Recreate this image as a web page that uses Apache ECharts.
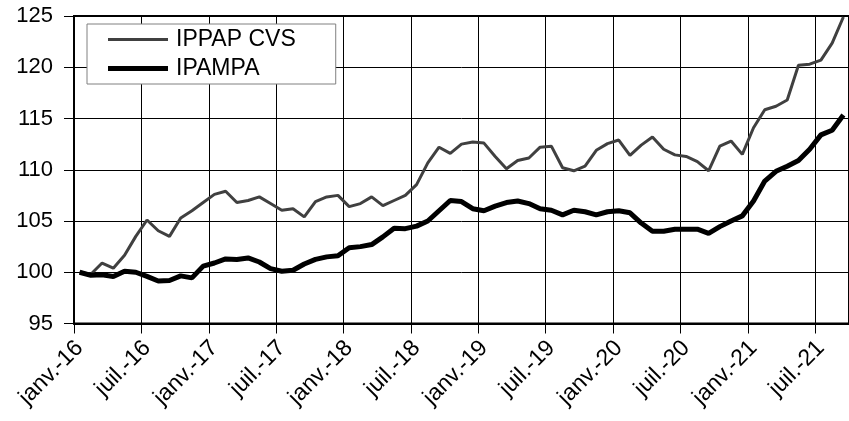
<!DOCTYPE html>
<html>
<head>
<meta charset="utf-8">
<script src="https://cdn.jsdelivr.net/npm/echarts@6/dist/echarts.min.js"></script>
<style>
  html, body { margin: 0; padding: 0; background: #fff; }
  #chart { width: 849px; height: 421px; }
</style>
</head>
<body>
<div id="chart"></div>
<script>
// month labels, jan 2016 -> sept 2021
const monthNames = ['janv.', 'févr.', 'mars', 'avr.', 'mai', 'juin', 'juil.', 'août', 'sept.', 'oct.', 'nov.', 'déc.']
const years = ['16', '17', '18', '19', '20', '21']
const monthCount = 69

const months = []
for (let i = 0; i < monthCount; i++) {
  months.push(monthNames[i % 12] + '-' + years[Math.floor(i / 12)])
}

const ippapCvs = [
  100.0, 99.8, 100.9, 100.4, 101.65, 103.5, 105.1, 104.05, 103.5, 105.3, 106.0, 106.8,
  107.6, 107.9, 106.8, 107.0, 107.35, 106.7, 106.05, 106.2, 105.4, 106.9, 107.35, 107.5,
  106.4, 106.7, 107.35, 106.5, 107.0, 107.5, 108.55, 110.67, 112.2, 111.6, 112.5, 112.7,
  112.6, 111.3, 110.1, 110.9, 111.15, 112.2, 112.3, 110.2, 109.9, 110.35, 111.9, 112.55,
  112.9, 111.4, 112.4, 113.2, 112.0, 111.45, 111.3, 110.8, 109.9, 112.3, 112.8, 111.5,
  114.1, 115.85, 116.2, 116.8, 120.2, 120.3, 120.7, 122.35, 124.9
]

const ipampa = [
  100.0, 99.7, 99.75, 99.58, 100.1, 100.0, 99.6, 99.15, 99.2, 99.65, 99.45, 100.6,
  100.9, 101.3, 101.25, 101.4, 101.0, 100.35, 100.1, 100.2, 100.8, 101.25, 101.5, 101.6,
  102.4, 102.5, 102.7, 103.45, 104.3, 104.25, 104.5, 105.0, 106.0, 107.0, 106.9, 106.2,
  106.0, 106.45, 106.8, 106.95, 106.7, 106.2, 106.05, 105.6, 106.05, 105.9, 105.6, 105.9,
  106.0, 105.8, 104.8, 104.0, 104.0, 104.2, 104.2, 104.2, 103.8, 104.45, 105.0, 105.5,
  106.95, 108.9, 109.85, 110.35, 110.9, 112.0, 113.4, 113.85, 115.35
]

const seriesNames = ['IPPAP CVS', 'IPAMPA']
const font = "'Liberation Sans', Arial, sans-serif"

const chart = echarts.init(document.getElementById('chart'))

const option = {
  animation: false,
  backgroundColor: '#fff',
  textStyle: { fontFamily: font },
  grid: {
    left: 74,
    top: 16,
    width: 782,
    bottom: 97.5,
    show: true,
    borderColor: '#000',
    borderWidth: 2,
    backgroundColor: 'transparent'
  },
  legend: {
    orient: 'vertical',
    left: 87,
    top: 24,
    padding: [4, 40, 4, 21],
    backgroundColor: '#fff',
    borderColor: '#808080',
    borderWidth: 1,
    itemWidth: 60,
    itemHeight: 22,
    itemGap: 6,
    textStyle: {
      fontFamily: font,
      fontSize: 23,
      color: '#000',
      padding: [0, 0, 0, 3]
    },
    // plain line samples, no marker in the middle
    data: [
      { name: seriesNames[0], icon: 'path://M0,0 L60,0 L60,3 L0,3 Z', itemStyle: { color: '#404040' } },
      { name: seriesNames[1], icon: 'path://M0,0 L60,0 L60,5 L0,5 Z', itemStyle: { color: '#000' } }
    ]
  },
  xAxis: {
    type: 'category',
    data: months,
    boundaryGap: true,
    axisLine: { lineStyle: { color: '#000', width: 2 } },
    axisTick: { show: true, interval: 5, length: 10, lineStyle: { color: '#000', width: 1 } },
    axisLabel: {
      interval: 5,
      rotate: 45,
      margin: 21,
      color: '#000',
      fontFamily: font,
      fontSize: 23
    },
    splitLine: { show: true, interval: 5, lineStyle: { color: '#000', width: 1 } }
  },
  yAxis: {
    type: 'value',
    min: 95,
    max: 125,
    interval: 5,
    axisLine: { show: true, lineStyle: { color: '#000', width: 2 } },
    axisTick: { show: true, length: 10, lineStyle: { color: '#000', width: 1 } },
    axisLabel: {
      margin: 21,
      color: '#000',
      fontFamily: font,
      fontSize: 22
    },
    splitLine: { show: true, lineStyle: { color: '#000', width: 1 } }
  },
  series: [
    {
      name: seriesNames[0],
      type: 'line',
      data: ippapCvs,
      symbol: 'none',
      lineStyle: { color: '#404040', width: 3 },
      itemStyle: { color: '#404040' },
      z: 2
    },
    {
      name: seriesNames[1],
      type: 'line',
      data: ipampa,
      symbol: 'none',
      lineStyle: { color: '#000', width: 5 },
      itemStyle: { color: '#000' },
      z: 3
    }
  ]
}

chart.setOption(option)
</script>
</body>
</html>
